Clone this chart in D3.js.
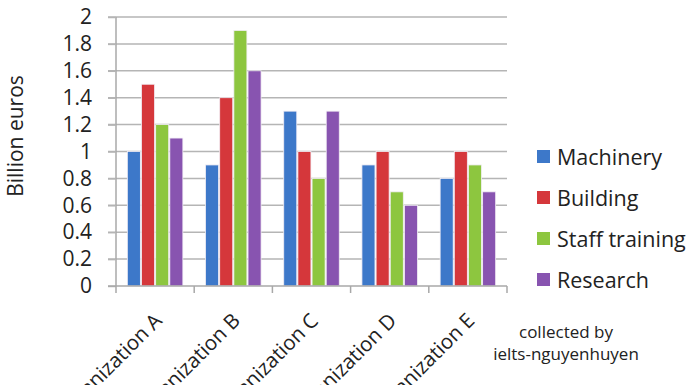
<!DOCTYPE html>
<html>
<head>
<meta charset="utf-8">
<script src="https://cdn.jsdelivr.net/npm/d3@7"></script>
<style>
  body { margin: 0; background: #fff; }
  svg { display: block; font-family: "Open Sans", sans-serif; }
</style>
</head>
<body>
<div id="chart"></div>
<script>
// data
const categories = ["Organization A", "Organization B", "Organization C", "Organization D", "Organization E"];
const seriesNames = ["Machinery", "Building", "Staff training", "Research"];
const machinery = [1.0, 0.9, 1.3, 0.9, 0.8];
const building = [1.5, 1.4, 1.0, 1.0, 1.0];
const staffTraining = [1.2, 1.9, 0.8, 0.7, 0.9];
const research = [1.1, 1.6, 1.3, 0.6, 0.7];
const yTicks = [0, 0.2, 0.4, 0.6, 0.8, 1, 1.2, 1.4, 1.6, 1.8, 2];

const seriesValues = [machinery, building, staffTraining, research];
const colors = ["#3d78c9", "#d5373b", "#8dc63f", "#8854b0"];

const width = 696, height = 385;
const margin = { top: 17, left: 116, right: 189, bottom: 99 };
const plotW = width - margin.left - margin.right;
const plotH = height - margin.top - margin.bottom;

const svg = d3.select("#chart").append("svg")
  .attr("width", width)
  .attr("height", height);

const g = svg.append("g")
  .attr("transform", `translate(${margin.left},${margin.top})`);

const x0 = d3.scaleBand().domain(categories).range([0, plotW]).paddingInner(0.29).paddingOuter(0.145);
const x1 = d3.scaleBand().domain(seriesNames).range([0, x0.bandwidth()]).paddingInner(0.08);
const y = d3.scaleLinear().domain([0, 2]).range([plotH, 0]);

// gridlines
g.append("g")
  .selectAll("line")
  .data(yTicks.slice(1))
  .join("line")
  .attr("x1", -8)
  .attr("x2", plotW)
  .attr("y1", d => y(d))
  .attr("y2", d => y(d))
  .attr("stroke", "#b5b5b5")
  .attr("stroke-width", 1.5);

// bars
const groups = g.append("g")
  .selectAll("g")
  .data(categories)
  .join("g")
  .attr("transform", d => `translate(${x0(d)},0)`);

groups.selectAll("rect")
  .data((c, ci) => seriesNames.map((s, si) => ({ s, si, v: seriesValues[si][ci] })))
  .join("rect")
  .attr("x", d => x1(d.s))
  .attr("y", d => y(d.v))
  .attr("width", x1.bandwidth())
  .attr("height", d => plotH - y(d.v))
  .attr("fill", d => colors[d.si])
  .attr("stroke", "#f2eef5")
  .attr("stroke-width", 0.8);

// y axis
const yAxis = g.append("g")
  .call(d3.axisLeft(y).tickValues(yTicks).tickFormat(d => String(d)).tickSize(8).tickPadding(16));
yAxis.select(".domain").attr("stroke", "#a8a8a8").attr("stroke-width", 1.5).attr("d", `M0,0V${plotH}`);
yAxis.selectAll(".tick line").attr("stroke", "#b5b5b5").attr("stroke-width", 1.5);
yAxis.selectAll(".tick text")
  .attr("font-size", 21)
  .attr("fill", "#222")
  .attr("font-family", "Open Sans, sans-serif");

// x axis
const xTickPos = d3.range(categories.length + 1).map(i => i * plotW / categories.length);
const xAxisG = g.append("g").attr("transform", `translate(0,${plotH})`);
xAxisG.append("line")
  .attr("x1", -8).attr("x2", plotW)
  .attr("stroke", "#a8a8a8").attr("stroke-width", 1.5);
xAxisG.selectAll(".xt")
  .data(xTickPos)
  .join("line")
  .attr("class", "xt")
  .attr("x1", d => d).attr("x2", d => d)
  .attr("y1", 0).attr("y2", 7)
  .attr("stroke", "#a8a8a8").attr("stroke-width", 1.5);

// category labels, cut off by the bottom edge like in the original
xAxisG.selectAll(".xl")
  .data(categories)
  .join("text")
  .attr("class", "xl")
  .attr("text-anchor", "end")
  .attr("font-size", 20.5)
  .attr("fill", "#222")
  .attr("transform", d => `translate(${x0(d) + x0.bandwidth() / 2 + 8},${36}) rotate(-45)`)
  .text(d => d);

// y title
svg.append("text")
  .attr("transform", `translate(23,136) rotate(-90)`)
  .attr("text-anchor", "middle")
  .attr("font-size", 21)
  .attr("fill", "#222")
  .text("Billion euros");

// legend
const legend = svg.append("g").attr("transform", "translate(537,157)");
const item = legend.selectAll("g")
  .data(seriesNames)
  .join("g")
  .attr("transform", (d, i) => `translate(0,${i * 41})`);
item.append("rect")
  .attr("x", 0).attr("y", -7)
  .attr("width", 13).attr("height", 13)
  .attr("fill", (d, i) => colors[i]);
item.append("text")
  .attr("x", 20)
  .attr("y", 0)
  .attr("dy", "0.35em")
  .attr("font-size", 21.5)
  .attr("fill", "#222")
  .text(d => d);

// credit
const credit = svg.append("text")
  .attr("text-anchor", "middle")
  .attr("font-size", 17)
  .attr("fill", "#222");
credit.append("tspan").attr("x", 566).attr("y", 338).text("collected by");
credit.append("tspan").attr("x", 566).attr("y", 360).text("ielts-nguyenhuyen");
</script>
</body>
</html>
